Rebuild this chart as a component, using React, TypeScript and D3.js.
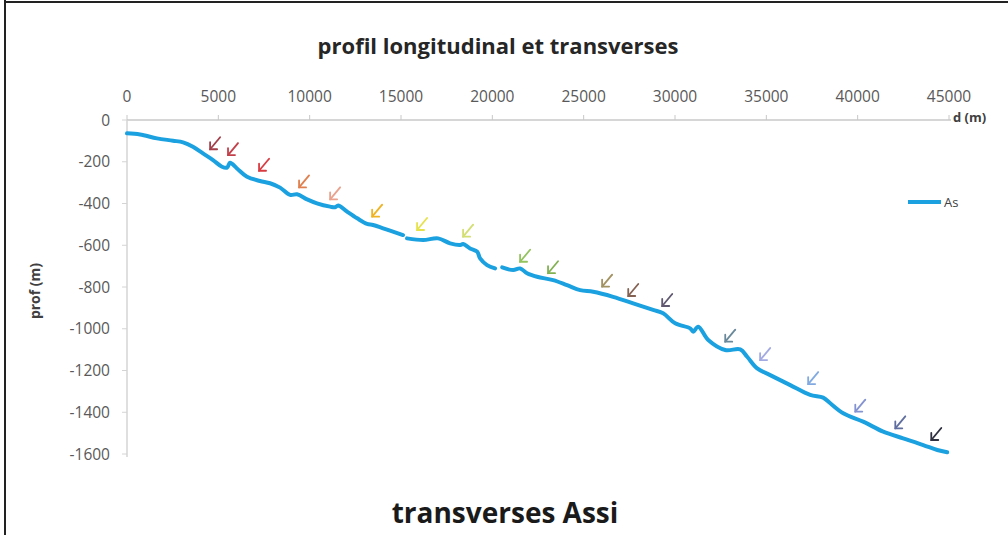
import React from 'react';
import * as d3 from 'd3';

// profil longitudinal (d en m, prof en m) - null = lacune dans le profil
const distances = [
  0, 710, 1640, 2520, 3070, 3610, 4160, 4710, 5200, 5480, 5640, 6020, 6570, 7280, 7830,
  8380, 8930, 9310, 9860, 10400, 11120, 11390, 11560, 12050, 12600, 13140, 13470, 14020,
  14400, 15110, 15220, 15330, 16210, 17030, 17690, 18240, 18400, 18780, 19170, 19330,
  19710, 20150, 20340, 20540, 21140, 21520, 21900, 22450, 23330, 24090, 24810, 25520,
  26610, 27710, 28800, 29350, 30010, 30830, 31000, 31270, 31820, 32750, 33570, 33950,
  34500, 35210, 36310, 37400, 38110, 38500, 39210, 40300, 41400, 42490, 43590, 44360, 44900,
];
const profondeurs: (number | null)[] = [
  -64, -69, -88, -99, -107, -128, -160, -192, -224, -228, -205, -232, -272, -292, -303,
  -324, -359, -356, -380, -399, -415, -418, -409, -439, -471, -498, -503, -519,
  -530, -551, null, -567, -575, -567, -591, -599, -594, -615, -631, -663,
  -695, -711, null, -706, -719, -711, -734, -751, -767, -791, -815, -823,
  -847, -878, -910, -926, -974, -998, -1014, -990, -1054, -1102, -1099, -1134,
  -1190, -1222, -1270, -1317, -1330, -1357, -1405, -1445, -1493, -1525, -1557, -1581, -1592,
];

// emplacements des profils transverses (pointe des flèches)
const transDistances = [
  4550, 5530, 7230, 9420, 11120, 13420, 15880, 18400, 21520, 23050, 26010, 27440, 29300,
  32750, 34660, 37290, 39870, 42060, 44030,
];
const transDepths = [
  -140, -168, -243, -323, -380, -463, -527, -559, -679, -734, -798, -843, -891,
  -1062, -1150, -1265, -1397, -1477, -1533,
];
const arrowColors = [
  '#a23f4a', '#c2404a', '#d83c42', '#e0804f', '#e9a28e', '#f0b324', '#e6e24c', '#d3df72',
  '#93c35f', '#82b152', '#a39362', '#846253', '#5f5870', '#6a8a9c', '#a3aae2', '#82aae0',
  '#8494d2', '#5f6e9e', '#2f3040',
];

const xTicks = [0, 5000, 10000, 15000, 20000, 25000, 30000, 35000, 40000, 45000];
const yTicks = [0, -200, -400, -600, -800, -1000, -1200, -1400, -1600];

const W = 1008;
const H = 535;
const font = '"Open Sans", sans-serif';

const App: React.FC = () => {
  const x = d3.scaleLinear().domain([0, 45000]).range([127, 949]);
  const y = d3.scaleLinear().domain([-1600, 0]).range([454, 120]);

  const points = distances.map((d, i) => ({ d, p: profondeurs[i] }));
  const line = d3
    .line<{ d: number; p: number | null }>()
    .defined((v) => v.p !== null)
    .curve(d3.curveCatmullRom.alpha(0.5))
    .x((v) => x(v.d))
    .y((v) => y(v.p as number));

  return (
    <svg width={W} height={H} style={{ position: 'absolute', left: 0, top: 0, background: '#fff' }}>
      <rect width={W} height={H} fill="#fff" />
      {/* cadre */}
      <line x1={5} x2={W} y1={2} y2={2} stroke="#222" strokeWidth={2} />
      <line x1={5} x2={5} y1={0} y2={H} stroke="#222" strokeWidth={2} />

      <text x={498} y={54} textAnchor="middle" fontFamily={font} fontWeight="bold" fontSize={22} fill="#262626">
        profil longitudinal et transverses
      </text>

      {/* axe x en haut */}
      <line x1={x(0)} x2={951} y1={y(0)} y2={y(0)} stroke="#c8c8c8" strokeWidth={1.5} />
      {xTicks.map((t) => (
        <g key={t}>
          <line x1={x(t)} x2={x(t)} y1={y(0)} y2={y(0) - 5} stroke="#c8c8c8" strokeWidth={1} />
          <text x={x(t)} y={102} textAnchor="middle" fontFamily={font} fontSize={15.5} fill="#595959">
            {t}
          </text>
        </g>
      ))}
      <text x={953} y={122} fontFamily={font} fontWeight="bold" fontSize={13} fill="#404040">
        d (m)
      </text>

      {/* axe y */}
      <line x1={x(0)} x2={x(0)} y1={y(0)} y2={457} stroke="#d4d4d4" strokeWidth={1.5} />
      {yTicks.map((t) => (
        <g key={t}>
          <line x1={x(0) - 5} x2={x(0)} y1={y(t)} y2={y(t)} stroke="#d4d4d4" strokeWidth={1} />
          <text x={110} y={y(t) + 5.5} textAnchor="end" fontFamily={font} fontSize={15.5} fill="#595959">
            {t}
          </text>
        </g>
      ))}
      <text
        transform="translate(40,291) rotate(-90)"
        textAnchor="middle"
        fontFamily={font}
        fontWeight="bold"
        fontSize={14}
        fill="#404040"
      >
        prof (m)
      </text>

      {/* profil */}
      <path d={line(points) || ''} fill="none" stroke="#1ba1e0" strokeWidth={4} strokeLinejoin="round" strokeLinecap="round" />

      {/* flèches des transverses */}
      {transDistances.map((d, i) => {
        const tx = x(d);
        const ty = y(transDepths[i]);
        const c = arrowColors[i];
        return (
          <g key={i} stroke={c} strokeWidth={1.8} fill="none" strokeLinecap="round">
            <line x1={tx} y1={ty} x2={tx + 10} y2={ty - 12} />
            <polyline points={`${tx},${ty - 7} ${tx},${ty} ${tx + 7},${ty}`} />
          </g>
        );
      })}

      {/* légende */}
      <line x1={908} x2={941} y1={202} y2={202} stroke="#1ba1e0" strokeWidth={4} />
      <text x={944} y={207} fontFamily={font} fontSize={13} fill="#404040">
        As
      </text>

      <text x={505} y={523} textAnchor="middle" fontFamily={font} fontWeight="bold" fontSize={28} fill="#1a1a1a">
        transverses Assi
      </text>
    </svg>
  );
};

export default App;
